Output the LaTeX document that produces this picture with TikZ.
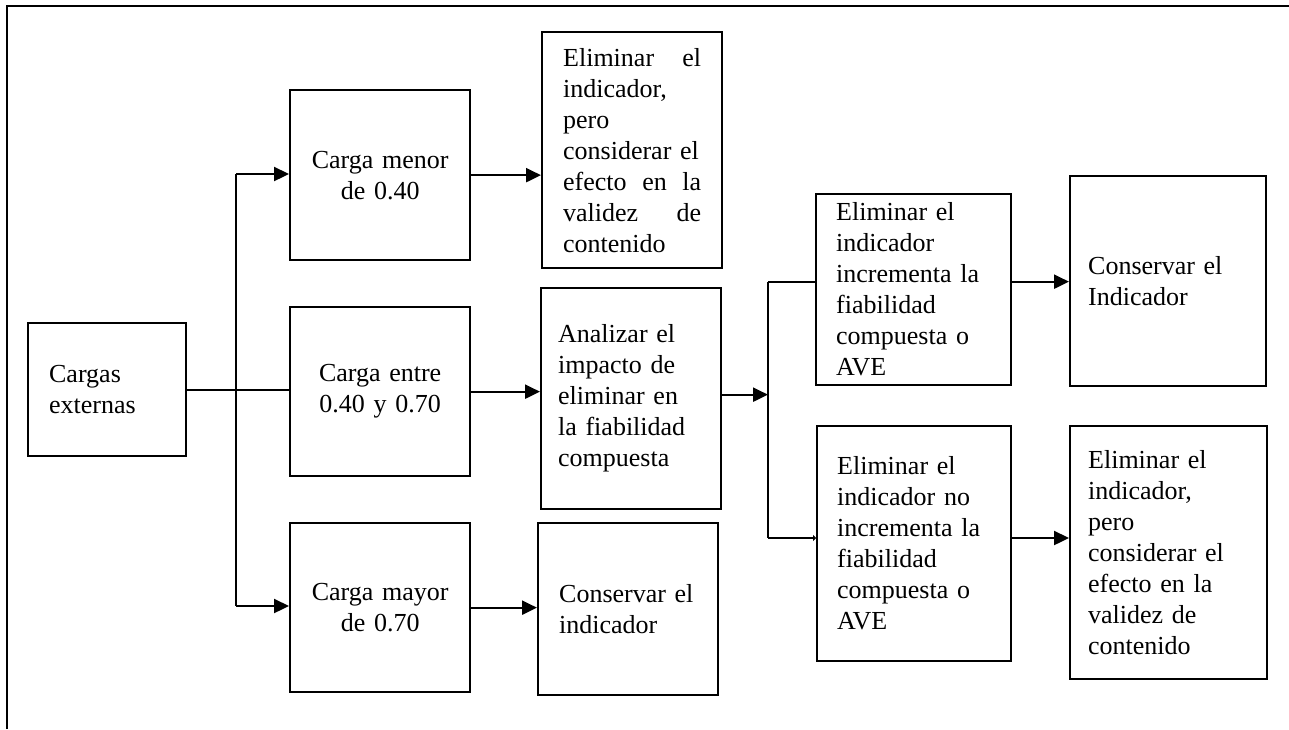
\documentclass[tikz,border=0pt]{standalone}
\usepackage{fontspec}
\setmainfont{Liberation Serif}
\usetikzlibrary{arrows.meta, positioning, calc}

\begin{document}
\begin{tikzpicture}[x=1pt, y=-1pt, >={Triangle[length=15pt,width=14pt]},
  line width=2.3pt,
  box node/.style={rectangle, draw, anchor=north west, inner ysep=0pt, align=left,
    font=\fontsize{26}{31}\selectfont},
  mid node/.style={box node, align=center, inner xsep=10pt, text width=160pt}]
  \useasboundingbox (0,0) rectangle (1289,729);
  \draw[line width=2.6pt] (7,729) -- (7,6) -- (1289,6);
  % first column
  \node[box node, minimum width=158pt, minimum height=133pt, inner xsep=21pt, text width=116pt] (A) at (27,322) {Cargas\\externas};
  % loads
  \node[mid node, minimum width=180pt, minimum height=170pt] (B1) at (289,89) {Carga menor\\de 0.40};
  \node[mid node, minimum width=180pt, minimum height=169pt] (B2) at (289,306) {Carga entre\\0.40 y 0.70};
  \node[mid node, minimum width=180pt, minimum height=169pt] (B3) at (289,522) {Carga mayor\\de 0.70};
  % decisions
  \node[box node, minimum width=180pt, minimum height=236pt, inner xsep=21pt, text width=138pt] (C1) at (541,31)
    {Eliminar\hfill el\\indicador,\\pero\\considerar el\\efecto\hfill en\hfill la\\validez\hfill de\\contenido};
  \node[box node, minimum width=180pt, minimum height=221pt, inner xsep=17pt, text width=146pt] (C2) at (540,287)
    {Analizar el\\impacto de\\eliminar en\\la fiabilidad\\compuesta};
  \node[box node, minimum width=180pt, minimum height=172pt, inner xsep=21pt, text width=138pt] (C3) at (537,522)
    {Conservar el\\indicador};
  \node[box node, minimum width=195pt, minimum height=191pt, inner xsep=20pt, text width=155pt] (D1) at (815,193)
    {Eliminar el\\indicador\\incrementa la\\fiabilidad\\compuesta o\\AVE};
  \node[box node, minimum width=194pt, minimum height=235pt, inner xsep=20pt, text width=154pt] (D2) at (816,425)
    {Eliminar el\\indicador no\\incrementa la\\fiabilidad\\compuesta o\\AVE};
  \node[box node, minimum width=196pt, minimum height=210pt, inner xsep=18pt, text width=160pt] (E1) at (1069,175)
    {Conservar el\\Indicador};
  \node[box node, minimum width=197pt, minimum height=253pt, inner xsep=18pt, text width=161pt] (E2) at (1069,425)
    {Eliminar el\\indicador,\\pero\\considerar el\\efecto en la\\validez de\\contenido};
  % branch points
  \coordinate (t1) at (236,174);
  \coordinate (t2) at (236,606);
  \coordinate (s1) at (768,282);
  \coordinate (s2) at (768,538);
  \draw (A.east) -- (A.east -| B2.west);
  \draw (t1) -- (t2);
  \draw[->] (t1) -- (t1 -| B1.west);
  \draw[->] (t2) -- (t2 -| B3.west);
  \draw[->] (B1.east) -- (B1.east -| C1.west);
  \draw[->] (B2.east) -- (B2.east -| C2.west);
  \draw[->] (B3.east) -- (B3.east -| C3.west);
  \draw[->] ([yshift=4pt]C2.east) -- ([yshift=4pt]C2.east -| s1);
  \draw (s1) -- (s2);
  \draw (s1) -- (s1 -| D1.west);
  \draw[-{Triangle[length=3pt,width=6pt]}] (s2) -- (s2 -| D2.west);
  \draw[->] ([yshift=8pt]D1.east) -- ([yshift=8pt]D1.east -| E1.west);
  \draw[->] (D2.east |- s2) -- (D2.east |- s2 -| E2.west);
\end{tikzpicture}
\end{document}
